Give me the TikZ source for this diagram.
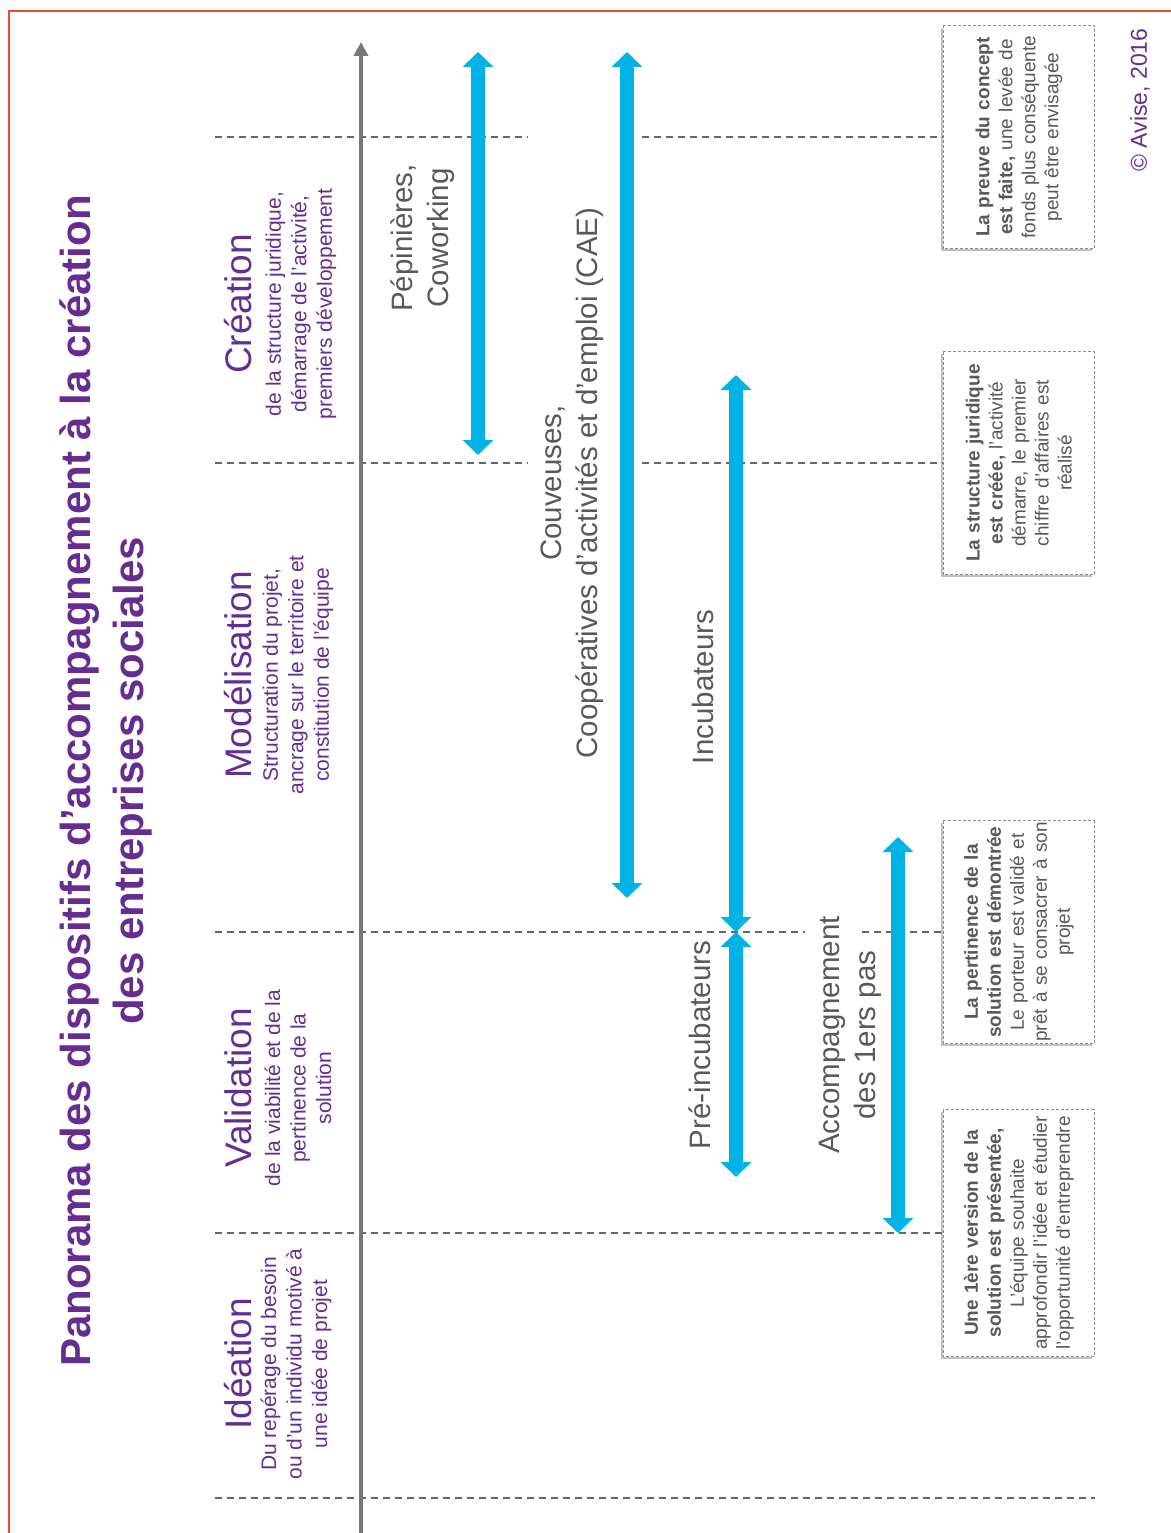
\documentclass[tikz,border=0pt]{standalone}
\usepackage{fontspec}
\setmainfont{Liberation Sans}
\usetikzlibrary{arrows.meta,shadows}
\definecolor{avpurple}{HTML}{662D91}
\definecolor{avblue}{HTML}{00B3E6}
\definecolor{avgrey}{HTML}{58595B}
\definecolor{axisgrey}{HTML}{77787B}
\definecolor{avred}{HTML}{EF4A2F}
\newcommand{\fsz}[2]{\fontsize{#1}{#2}\selectfont}

\begin{document}
\begin{tikzpicture}[x=1pt,y=-1pt,
    phase/.style={draw=black!60,line width=1.3pt,dash pattern=on 7pt off 5pt},
    band/.style={avblue,line width=14pt,{Triangle[width=30pt,length=15pt]}-{Triangle[width=30pt,length=15pt]}},
    title/.style={rotate=90,text=avpurple,font=\bfseries\fsz{42}{53},align=center},
    head/.style={rotate=90,text=avpurple,font=\fsz{37}{40}},
    sub/.style={rotate=90,text=avpurple,font=\fsz{21}{25.5},align=center},
    lbl/.style={rotate=90,text=avgrey,font=\fsz{29.5}{36},align=center},
    note/.style={rotate=90,anchor=north,draw=black!45,densely dashed,line width=0.8pt,fill=white,
        drop shadow={shadow xshift=-2.5pt,shadow yshift=-2.5pt,opacity=0.35,fill=black!70},
        text=avgrey,font=\fsz{19}{23},align=center,inner sep=1pt,
        minimum width=223pt,minimum height=151pt,text width=220pt}]
    \useasboundingbox (0,0) rectangle (1170,1533);
    \draw[avred,line width=2.5pt] (9,11) rectangle (1200,1560);

    \node[title] (title) at (106,781) {Panorama des dispositifs d’accompagnement à la création\\des entreprises sociales};

    \node[head] (hcrea) at (238,304) {Création};
    \node[sub] (screa) at (301,304) {de la structure juridique,\\démarrage de l’activité,\\premiers développement};
    \node[head] (hmodel) at (238,675) {Modélisation};
    \node[sub] (smodel) at (298,675) {Structuration du projet,\\ancrage sur le territoire et\\constitution de l’équipe};
    \node[head] (hvalid) at (238,1088) {Validation};
    \node[sub] (svalid) at (298,1088) {de la viabilité et de la\\pertinence de la\\solution};
    \node[head] (hidea) at (238,1364) {Idéation};
    \node[sub] (sidea) at (296,1364) {Du repérage du besoin\\ou d’un individu motivé à\\une idée de projet};

    \node[note] (proof) at (943,137) {{\bfseries La preuve du concept}\\{\bfseries est faite,} une levée de\\fonds plus conséquente\\peut être envisagée};
    \node[note] (legal) at (943,463) {{\bfseries La structure juridique}\\{\bfseries est créée,} l’activité\\démarre, le premier\\chiffre d’affaires est\\réalisé};
    \node[note] (fit) at (943,932) {{\bfseries La pertinence de la}\\{\bfseries solution est démontrée}\\Le porteur est validé et\\prêt à se consacrer à son\\projet};
    \node[note,minimum width=247pt,text width=240pt] (firstver) at (943,1233) {{\bfseries Une 1ère version de la}\\{\bfseries solution est présentée,}\\L’équipe souhaite\\approfondir l’idée et étudier\\l’opportunité d’entreprendre};

    \node[rotate=90,text=avpurple,font=\fsz{23}{26}] (avise) at (1140,100) {© Avise, 2016};

    \draw[phase] (215,137) -- (528,137);
    \draw[phase] (642,137) -- (proof.north);
    \draw[phase] (215,463) -- (528,463);
    \draw[phase] (642,463) -- (legal.north);
    \draw[phase] (215,932) -- (805,932);
    \draw[phase] (862,932) -- (fit.north);
    \draw[phase] (215,1233) -- (firstver.north);
    \draw[phase] (215,1498) -- (1095,1498);

    \coordinate (axis0) at (361,1533);
    \coordinate (axis1) at (361,42);
    \draw[axisgrey,line width=4pt,-{Triangle[width=14pt,length=14pt]}] (axis0) -- (axis1);

    \coordinate (pepA) at (478,52);
    \coordinate (pepB) at (478,455);
    \coordinate (caeA) at (627,52);
    \coordinate (caeB) at (627,898);
    \coordinate (incA) at (736,375);
    \coordinate (incB) at (736,932);
    \coordinate (preA) at (736,932);
    \coordinate (preB) at (736,1177);
    \coordinate (accA) at (898,837);
    \coordinate (accB) at (898,1233);
    \draw[band] (pepA) -- (pepB);
    \draw[band] (caeA) -- (caeB);
    \draw[band] (incA) -- (incB);
    \draw[band] (preA) -- (preB);
    \draw[band] (accA) -- (accB);

    \node[lbl] (lpep) at (423,238) {Pépinières,\\Coworking};
    \node[lbl] (lcae) at (572,483) {Couveuses,\\Coopératives d’activités et d’emploi (CAE)};
    \node[lbl] (linc) at (703,687) {Incubateurs};
    \node[lbl] (lpre) at (700,1045) {Pré-incubateurs};
    \node[lbl] (lacc) at (850,1035) {Accompagnement\\des 1ers pas};
\end{tikzpicture}
\end{document}
